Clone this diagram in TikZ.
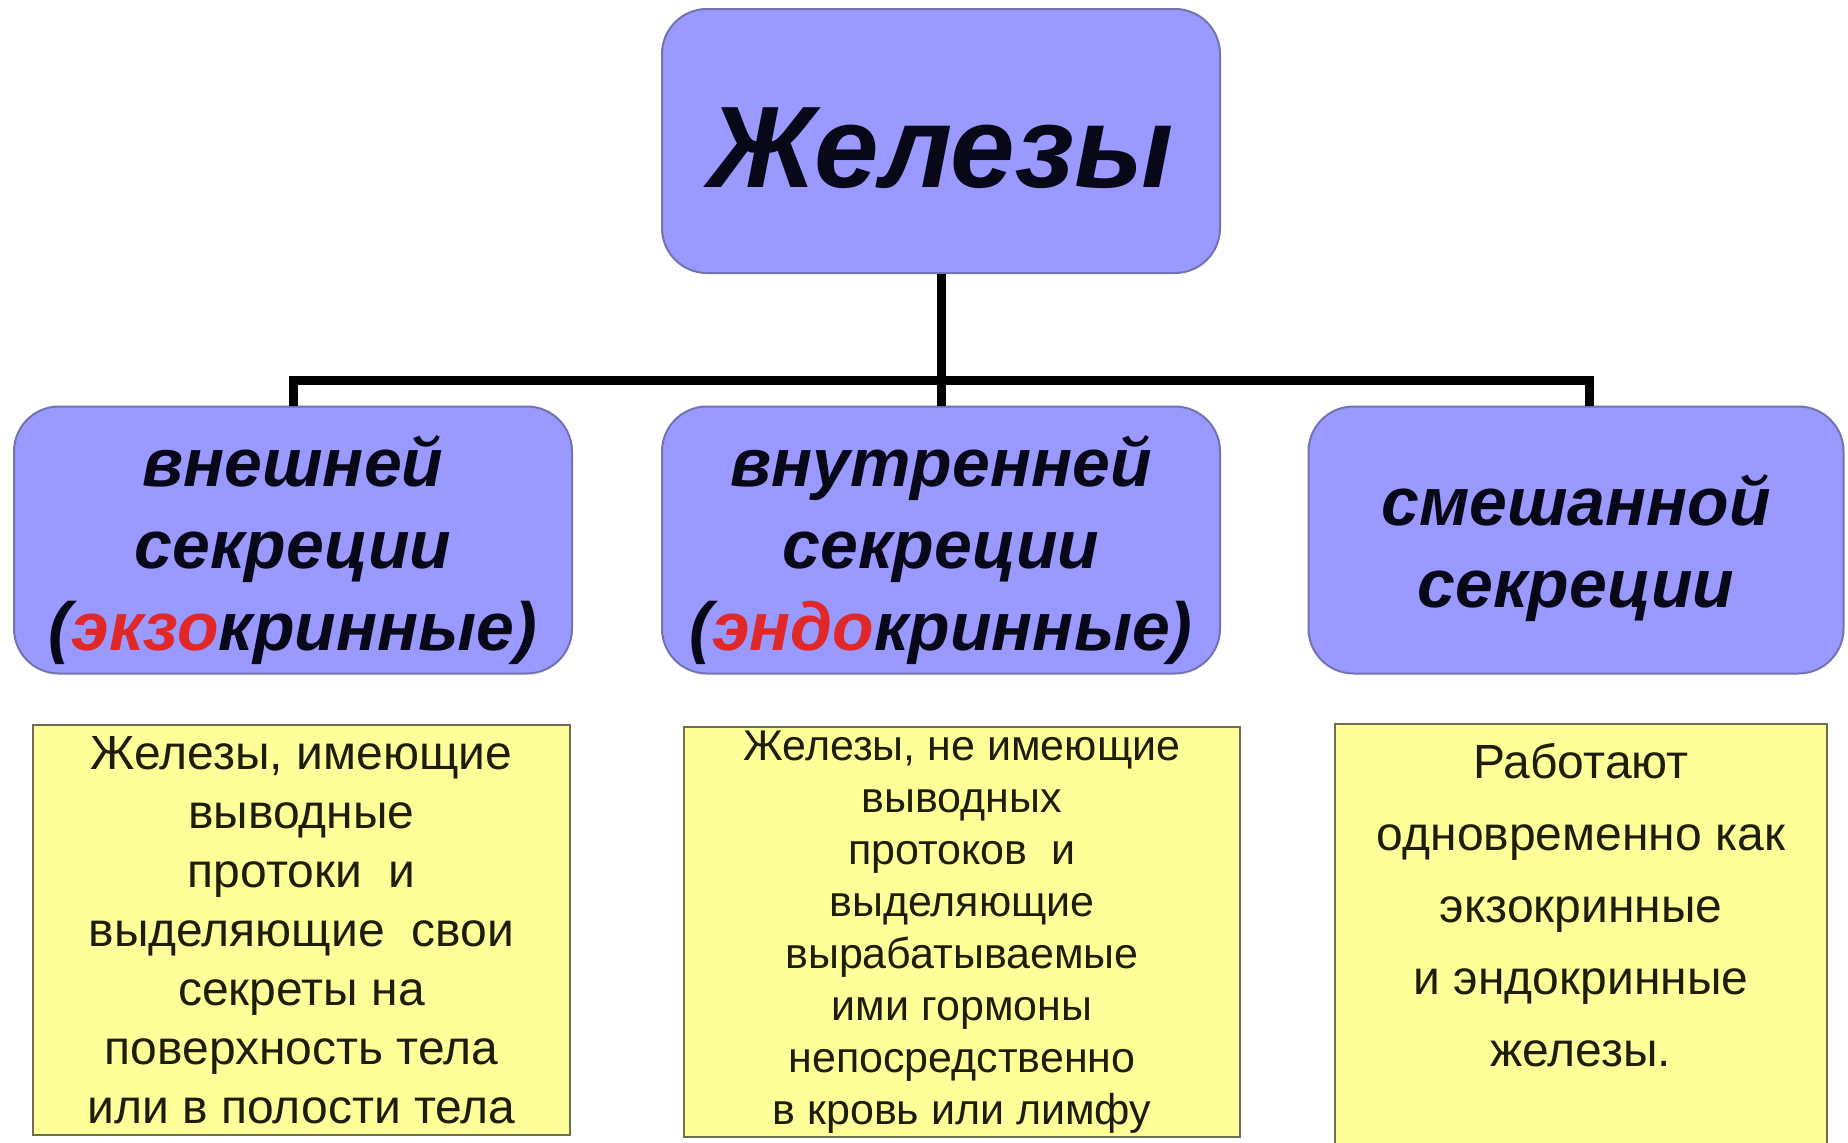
\documentclass[tikz,border=0pt]{standalone}
\usepackage{fontspec}
\setmainfont{Liberation Sans}
\definecolor{boxblue}{RGB}{153,153,255}
\definecolor{blueedge}{RGB}{115,115,175}
\definecolor{boxyellow}{RGB}{255,255,153}
\definecolor{yellowedge}{RGB}{110,110,80}
\definecolor{redtxt}{RGB}{225,40,40}
\definecolor{darktxt}{RGB}{30,30,8}
\definecolor{bluetxt}{RGB}{8,8,25}
\begin{document}
\begin{tikzpicture}[x=1pt,y=-1pt,
  bluebox/.style={draw=blueedge, line width=2pt, fill=boxblue, rounded corners=45pt,
    inner sep=0pt},
  bluetext/.style={align=center, text=bluetxt, inner sep=0pt,
    font=\bfseries\itshape\fontsize{68}{82}\selectfont},
  yellowbox/.style={draw=yellowedge, line width=2pt, fill=boxyellow, inner sep=0pt,
    align=center, text=darktxt},
  conn/.style={line width=9pt, draw=black, line join=miter}]
\useasboundingbox (0,0) rectangle (1848,1143);
\clip (0,0) rectangle (1848,1143);
\fill[white] (0,0) rectangle (1848,1143);

% top
\node[bluebox, minimum width=558pt, minimum height=264pt] (top) at (941,141) {};
\node[bluetext, font=\bfseries\itshape\fontsize{116}{130}\selectfont] (toptext) at (941,148) {Железы};

% category boxes
\node[bluebox, minimum width=558pt, minimum height=267pt] (b1) at (293,540) {};
\node[bluetext] (b1t) at (293,550) {внешней\\секреции\\(\textcolor{redtxt}{экзо}кринные)};
\node[bluebox, minimum width=558pt, minimum height=267pt] (b2) at (941,540) {};
\node[bluetext] (b2t) at (941,550) {внутренней\\секреции\\(\textcolor{redtxt}{эндо}кринные)};
\node[bluebox, minimum width=535pt, minimum height=267pt] (b3) at (1576,540) {};
\node[bluetext] (b3t) at (1576,548) {смешанной\\секреции};

% connectors
\coordinate (bar) at (941,380);
\coordinate (rdrop) at (1589,380);
\draw[conn] (top.south) -- (b2.north);
\draw[conn] (b1.north) -- (b1.north |- bar) -- (rdrop) -- (rdrop |- b3.north);

% description boxes
\node[yellowbox, minimum width=537pt, minimum height=410pt,
  font=\fontsize{48}{59}\selectfont] (y1) at (301.5,930)
  {Железы, имеющие\\выводные\\протоки\ \ и\\выделяющие\ \ свои\\секреты на\\поверхность тела\\или в полости тела};
\node[yellowbox, minimum width=556pt, minimum height=410pt,
  font=\fontsize{43}{52}\selectfont] (y2) at (962,932)
  {Железы, не имеющие\\выводных\\протоков\ \ и\\выделяющие\\вырабатываемые\\ими гормоны\\непосредственно\\в кровь или лимфу};
\node[yellowbox, minimum width=492pt, minimum height=432pt] (y3) at (1581,940) {};
\node[align=center, text=darktxt, font=\fontsize{48}{72}\selectfont] (y3t) at (1581,905)
  {Работают\\одновременно как\\экзокринные\\и эндокринные\\железы.};
\end{tikzpicture}
\end{document}
